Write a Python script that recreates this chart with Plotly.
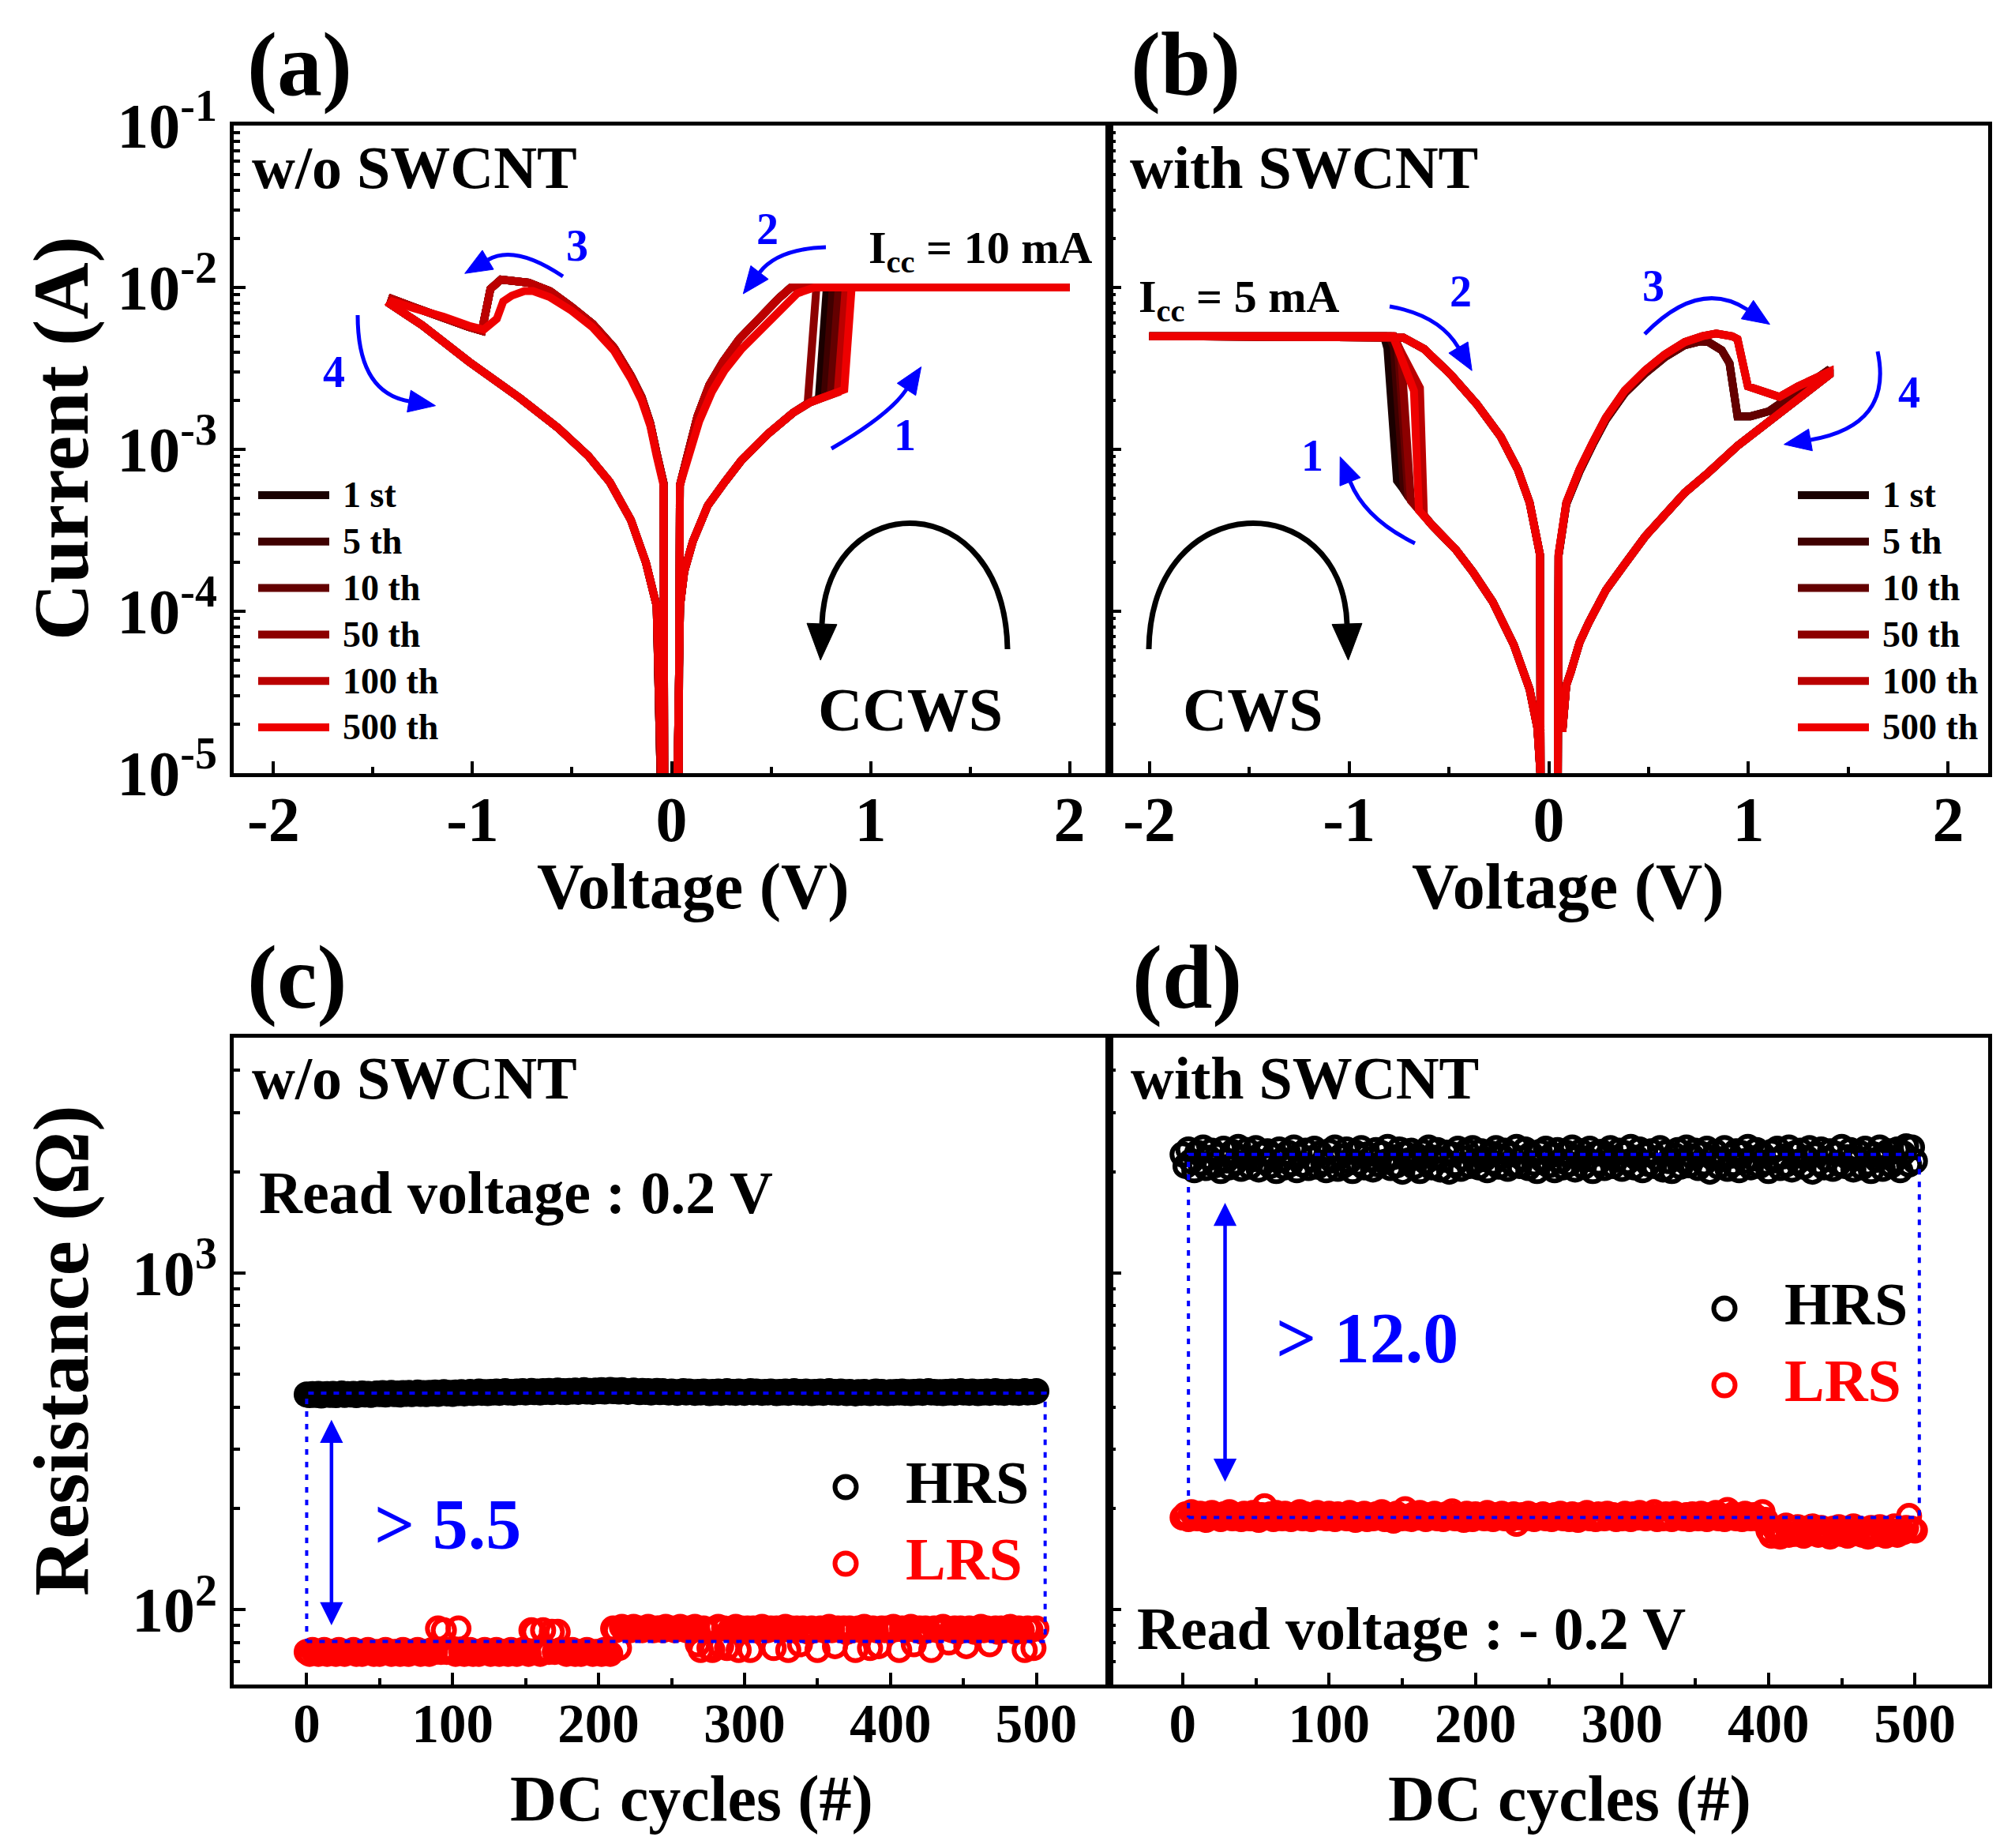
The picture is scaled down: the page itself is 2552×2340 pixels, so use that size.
import math
import plotly.graph_objects as go

W, H = 2552, 2340
FONT = "Liberation Serif"
BLUE = "#0000ff"

# ---------------- cycles shown in the I-V panels ----------------
cycle_names = ["1 st", "5 th", "10 th", "50 th", "100 th", "500 th"]
cycle_colors = ["#1a0000", "#3f0000", "#640000", "#8c0000", "#bb0000", "#ee0000"]

# ---------------- (a) w/o SWCNT, Icc = 10 mA ----------------
a_icc = 1e-2
a_vmax = 2.0
# sweep 1: 0 -> +V on the HRS
a_hrs_pos_v = [0.030, 0.030, 0.043, 0.064, 0.107, 0.182, 0.268, 0.353, 0.482, 0.610, 0.696, 0.760, 0.810, 0.868]
a_hrs_pos_i = [5e-6, 1e-5, 1.08e-4, 1.76e-4, 2.7e-4, 4.5e-4, 6.3e-4, 8.6e-4, 1.24e-3, 1.68e-3, 1.95e-3, 2.08e-3, 2.2e-3, 2.34e-3]
# set transition of every cycle
a_set_v = [0.740, 0.770, 0.800, 0.684, 0.835, 0.868]
a_set_i = [2.06e-3, 2.12e-3, 2.18e-3, 1.93e-3, 2.25e-3, 2.34e-3]
a_set_top_v = [0.780, 0.810, 0.840, 0.728, 0.875, 0.905]
# sweep 2: +V -> 0 on the LRS (two families of curves)
a_lrs_pos_dark_v = [0.600, 0.540, 0.450, 0.340, 0.260, 0.190, 0.130, 0.090, 0.060, 0.042, 0.036, 0.036]
a_lrs_pos_dark_i = [1e-2, 8.6e-3, 6.5e-3, 4.8e-3, 3.5e-3, 2.5e-3, 1.6e-3, 1.05e-3, 7.2e-4, 6.0e-4, 1e-5, 5e-6]
a_lrs_pos_red_v = [0.718, 0.632, 0.568, 0.461, 0.353, 0.268, 0.204, 0.139, 0.096, 0.064, 0.042, 0.036, 0.036]
a_lrs_pos_red_i = [1e-2, 9.2e-3, 7.7e-3, 5.66e-3, 4.18e-3, 3.09e-3, 2.28e-3, 1.49e-3, 9.7e-4, 6.8e-4, 6.0e-4, 1e-5, 5e-6]
# sweep 3: 0 -> -V on the LRS, reset
a_lrs_neg_dark_v = [-0.036, -0.036, -0.040, -0.075, -0.107, -0.150, -0.204, -0.289, -0.396, -0.503, -0.610,
                    -0.718, -0.857, -0.910, -0.953, -1.020, -1.150, -1.300, -1.405]
a_lrs_neg_dark_i = [5e-6, 1e-5, 6.2e-4, 9.5e-4, 1.45e-3, 2.1e-3, 2.85e-3, 4.25e-3, 5.95e-3, 7.6e-3, 9.5e-3,
                    1.07e-2, 1.12e-2, 9.8e-3, 5.4e-3, 5.7e-3, 6.6e-3, 7.6e-3, 8.5e-3]
a_lrs_neg_red_v = [-0.036, -0.036, -0.040, -0.075, -0.107, -0.150, -0.204, -0.289, -0.396, -0.503, -0.610,
                   -0.696, -0.739, -0.803, -0.846, -0.878, -0.943, -1.018, -1.146, -1.296, -1.403]
a_lrs_neg_red_i = [5e-6, 1e-5, 6.0e-4, 9.1e-4, 1.4e-3, 2.0e-3, 2.73e-3, 4.06e-3, 5.67e-3, 7.2e-3, 8.7e-3,
                   9.5e-3, 9.5e-3, 8.9e-3, 8.2e-3, 6.4e-3, 5.5e-3, 5.8e-3, 6.6e-3, 7.45e-3, 8.2e-3]
# sweep 4: -V -> 0 on the HRS
a_hrs_neg_v = [-1.414, -1.253, -1.018, -0.761, -0.568, -0.418, -0.311, -0.204, -0.129, -0.075, -0.050, -0.050]
a_hrs_neg_i = [7.9e-3, 5.85e-3, 3.48e-3, 2.07e-3, 1.35e-3, 9.1e-4, 6.3e-4, 3.66e-4, 2.0e-4, 1.08e-4, 1e-5, 5e-6]
a_family = [0, 0, 0, 0, 0, 1]

# ---------------- (b) with SWCNT, Icc = 5 mA ----------------
b_icc = 5e-3
b_vmin = -2.0
# sweep 1: 0 -> -V on the HRS
b_hrs_neg_v = [-0.040, -0.042, -0.057, -0.096, -0.175, -0.280, -0.380, -0.465, -0.584, -0.650, -0.690, -0.703, -0.725, -0.760]
b_hrs_neg_i = [5e-6, 1e-5, 1.9e-5, 3.3e-5, 6.2e-5, 1.14e-4, 1.75e-4, 2.4e-4, 3.4e-4, 4.2e-4, 4.8e-4, 5.1e-4, 5.6e-4, 6.4e-4]
b_set_v = [-0.760, -0.725, -0.703, -0.690, -0.625, -0.650]
b_set_i = [6.4e-4, 5.6e-4, 5.1e-4, 4.8e-4, 3.9e-4, 4.2e-4]
b_set_top_v = [-0.808, -0.776, -0.755, -0.740, -0.645, -0.675]
b_set_top_i = [4.2e-3, 4.3e-3, 4.2e-3, 4.0e-3, 2.4e-3, 2.3e-3]
b_knee_v = [-0.825, -0.800, -0.785, -0.775, -0.780, -0.780]
# sweep 2: -V -> 0 on the LRS
b_lrs_neg_v = [-0.795, -0.728, -0.624, -0.491, -0.360, -0.241, -0.155, -0.096, -0.044, -0.042, -0.040]
b_lrs_neg_i = [5e-3, 4.9e-3, 4.17e-3, 2.9e-3, 1.9e-3, 1.2e-3, 7.5e-4, 4.7e-4, 2.24e-4, 1e-5, 5e-6]
# sweep 3: 0 -> +V on the LRS, reset
b_lrs_pos_dark_v = [0.045, 0.047, 0.049, 0.088, 0.154, 0.220, 0.286, 0.380, 0.483, 0.580, 0.681, 0.760, 0.800,
                    0.866, 0.905, 0.945, 1.010, 1.103, 1.250, 1.406]
b_lrs_pos_dark_i = [5e-6, 1e-5, 2.2e-4, 4.6e-4, 7.3e-4, 1.07e-3, 1.52e-3, 2.22e-3, 2.95e-3, 3.7e-3, 4.4e-3, 4.65e-3, 4.6e-3,
                    4.1e-3, 3.4e-3, 1.6e-3, 1.6e-3, 1.72e-3, 2.3e-3, 3.12e-3]
b_lrs_pos_red_v = [0.045, 0.047, 0.049, 0.088, 0.154, 0.220, 0.286, 0.380, 0.483, 0.580, 0.681, 0.770, 0.839,
                   0.918, 0.945, 0.997, 1.063, 1.155, 1.248, 1.406]
b_lrs_pos_red_i = [5e-6, 1e-5, 2.24e-4, 4.7e-4, 7.5e-4, 1.1e-3, 1.57e-3, 2.3e-3, 3.08e-3, 3.85e-3, 4.6e-3, 5.0e-3, 5.2e-3,
                   5.0e-3, 4.8e-3, 2.45e-3, 2.29e-3, 2.11e-3, 2.45e-3, 3.02e-3]
# sweep 4: +V -> 0 on the HRS
b_hrs_pos_v = [1.406, 1.300, 1.208, 1.080, 0.945, 0.800, 0.681, 0.560, 0.483, 0.380, 0.286, 0.200, 0.154, 0.110, 0.088, 0.068]
b_hrs_pos_i = [2.9e-3, 2.3e-3, 1.85e-3, 1.4e-3, 1.05e-3, 7.2e-4, 5.4e-4, 3.7e-4, 2.9e-4, 1.95e-4, 1.35e-4, 8.5e-5,
               6.4e-5, 4.2e-5, 3.5e-5, 1.8e-5]
b_family = [0, 0, 0, 1, 1, 1]

# ---------------- (c), (d) DC endurance, every 2nd cycle ----------------
dc_cycles = list(range(0, 501, 2))
c_hrs = [436, 434, 437, 435, 438, 433, 436, 437, 435, 438, 434, 436, 439, 435, 437, 436, 438, 434, 437, 439, 436, 438, 435, 437, 439,
         437, 440, 436, 438, 441, 437, 439, 436, 440, 438, 441, 437, 439, 442, 438, 440, 437, 441, 439, 442, 438, 440, 443, 439, 441,
         438, 442, 440, 443, 439, 441, 444, 440, 442, 445, 441, 443, 440, 444, 442, 445, 441, 443, 446, 442, 444, 441, 445, 443, 446,
         442, 444, 447, 443, 445, 442, 446, 444, 447, 443, 445, 448, 444, 446, 443, 447, 445, 448, 444, 446, 449, 445, 447, 444, 448,
         446, 449, 445, 447, 450, 446, 448, 445, 449, 447, 444, 446, 448, 445, 443, 447, 444, 446, 442, 445, 447, 443, 446, 444, 442,
         445, 443, 441, 444, 446, 442, 445, 443, 441, 444, 442, 445, 443, 440, 444, 442, 445, 441, 443, 446, 442, 444, 441, 445, 443,
         441, 444, 446, 442, 445, 443, 441, 444, 442, 445, 443, 440, 444, 442, 445, 441, 443, 446, 442, 444, 441, 445, 443, 440, 444,
         442, 445, 441, 443, 446, 442, 444, 441, 445, 443, 440, 444, 442, 439, 443, 441, 444, 442, 440, 443, 445, 441, 444, 442, 440,
         443, 441, 444, 442, 445, 441, 443, 440, 444, 442, 445, 441, 443, 446, 442, 444, 441, 443, 440, 444, 442, 445, 441, 443, 446,
         442, 444, 441, 445, 443, 440, 444, 442, 445, 441, 443, 446, 442, 444, 441, 443, 445, 442, 444, 441, 443, 446, 442, 444, 443,
         446]
c_lrs = [75, 74, 76, 75, 74, 75, 76, 74, 75, 75, 74, 76, 75, 74, 75, 75, 76, 74, 75, 74, 75, 76, 75, 74, 75,
         74, 75, 76, 75, 74, 75, 75, 74, 76, 75, 74, 75, 75, 76, 74, 75, 75, 74, 76, 75, 88, 75, 87, 75, 76,
         75, 74, 88, 75, 74, 75, 76, 74, 75, 74, 75, 76, 75, 74, 75, 76, 74, 75, 75, 74, 76, 75, 74, 75, 76,
         75, 74, 87, 86, 75, 74, 87, 76, 75, 86, 75, 86, 76, 75, 74, 75, 76, 74, 75, 74, 75, 76, 75, 74, 75,
         75, 74, 76, 75, 74, 88, 87, 77, 89, 88, 88, 87, 89, 88, 88, 87, 88, 89, 88, 87, 88, 88, 87, 89, 88,
         88, 87, 88, 89, 88, 87, 88, 88, 89, 79, 76, 88, 87, 77, 76, 88, 89, 78, 88, 77, 87, 88, 89, 76, 88,
         87, 88, 76, 88, 87, 88, 89, 88, 87, 88, 77, 88, 87, 88, 89, 76, 88, 87, 88, 79, 88, 87, 86, 88, 87,
         76, 88, 87, 88, 89, 87, 78, 88, 87, 88, 86, 88, 87, 76, 88, 87, 89, 88, 77, 88, 87, 78, 88, 87, 88,
         87, 89, 88, 76, 88, 87, 88, 89, 79, 87, 88, 86, 88, 87, 76, 88, 87, 88, 89, 88, 80, 87, 88, 86, 88,
         87, 78, 88, 87, 86, 88, 89, 87, 88, 79, 87, 88, 86, 88, 87, 88, 89, 87, 86, 88, 87, 76, 88, 87, 77,
         88]
d_hrs = [2250, 2080, 2330, 2150, 2020, 2280, 2120, 2360, 2050, 2200, 2310, 2090, 2240, 2010, 2340, 2160, 2060, 2290, 2130, 2370, 2040, 2210, 2320, 2070, 2180,
         2350, 2030, 2260, 2140, 2300, 2080, 2230, 2010, 2330, 2170, 2060, 2280, 2110, 2360, 2020, 2240, 2100, 2310, 2050, 2190, 2340, 2070, 2270, 2130, 2020,
         2300, 2160, 2360, 2040, 2220, 2090, 2330, 2150, 2010, 2280, 2120, 2350, 2060, 2250, 2180, 2030, 2320, 2100, 2270, 2140, 2370, 2050, 2210, 2090, 2330,
         2000, 2260, 2160, 2310, 2070, 2230, 2010, 2290, 2140, 2360, 2060, 2200, 2320, 2030, 2170, 2280, 2000, 2250, 2110, 2340, 2040, 2190, 2300, 2080, 2350,
         2150, 2060, 2300, 2180, 2020, 2270, 2130, 2350, 2070, 2220, 2310, 2040, 2250, 2100, 2370, 2080, 2190, 2330, 2050, 2260, 2120, 2010, 2290, 2160, 2340,
         2090, 2240, 2020, 2320, 2150, 2060, 2280, 2110, 2360, 2030, 2210, 2300, 2070, 2180, 2340, 2010, 2260, 2130, 2290, 2050, 2230, 2350, 2080, 2170, 2310,
         2040, 2270, 2140, 2370, 2060, 2200, 2330, 2020, 2250, 2110, 2300, 2080, 2190, 2350, 2030, 2280, 2150, 2010, 2240, 2320, 2070, 2160, 2360, 2090, 2220,
         2310, 2050, 2260, 2120, 2340, 2000, 2200, 2290, 2070, 2180, 2350, 2040, 2230, 2110, 2300, 2020, 2270, 2150, 2370, 2060, 2190, 2320, 2080, 2250, 2130,
         2010, 2290, 2160, 2340, 2050, 2220, 2100, 2360, 2030, 2270, 2140, 2310, 2070, 2200, 2350, 2000, 2250, 2120, 2330, 2060, 2180, 2300, 2040, 2260, 2110,
         2370, 2080, 2210, 2320, 2030, 2190, 2280, 2060, 2340, 2120, 2010, 2250, 2170, 2360, 2040, 2230, 2300, 2090, 2160, 2330, 2020, 2270, 2380, 2100, 2360,
         2150]
d_lrs = [188, 192, 186, 195, 190, 187, 193, 189, 185, 191, 194, 188, 190, 186, 192, 189, 195, 187, 191, 188, 186, 193, 190, 187, 194,
         189, 185, 191, 203, 188, 192, 186, 194, 190, 187, 193, 189, 186, 191, 188, 195, 187, 192, 189, 186, 190, 194, 188, 191, 187,
         193, 189, 186, 192, 188, 190, 187, 194, 189, 185, 191, 188, 193, 186, 190, 187, 192, 189, 195, 186, 191, 188, 184, 193, 190,
         187, 199, 189, 186, 192, 188, 194, 190, 186, 191, 188, 193, 187, 190, 186, 192, 189, 196, 187, 191, 188, 185, 193, 189, 186,
         192, 188, 190, 187, 194, 189, 186, 191, 188, 193, 187, 190, 186, 192, 180, 188, 191, 187, 193, 189, 186, 190, 188, 192, 187,
         189, 186, 191, 188, 193, 187, 190, 186, 192, 189, 185, 191, 188, 194, 187, 190, 186, 192, 189, 187, 193, 188, 191, 186, 190,
         187, 193, 189, 186, 192, 188, 194, 190, 187, 191, 188, 195, 186, 190, 187, 192, 189, 186, 193, 188, 190, 187, 191, 186, 192,
         189, 187, 193, 188, 186, 191, 189, 194, 187, 190, 186, 198, 188, 192, 187, 190, 186, 193, 189, 187, 191, 188, 186, 195, 185,
         172, 166, 175, 169, 165, 171, 178, 167, 173, 168, 176, 170, 166, 174, 169, 177, 171, 167, 175, 168, 172, 165, 174, 170, 176,
         168, 173, 166, 171, 177, 169, 174, 167, 172, 165, 175, 170, 168, 176, 171, 166, 173, 169, 177, 167, 172, 170, 175, 190, 174,
         172]
# dotted memory window and ratio arrows
c_box_cycles = [0, 506]
c_box_levels = [80.5, 440]
d_box_cycles = [4, 503]
d_box_levels = [188, 2250]
c_arrow_cycle, c_arrow_span = 17, [90, 370]
d_arrow_cycle, d_arrow_span = 29, [240, 1630]

# ---------------- tick labels ----------------
v_ticks = [-2, -1, 0, 1, 2]
v_ticklabels = ["-2", "-1", "0", "1", "2"]
i_ticks = [1e-5, 1e-4, 1e-3, 1e-2, 1e-1]
i_ticklabels = ["10<sup>-5</sup>", "10<sup>-4</sup>", "10<sup>-3</sup>", "10<sup>-2</sup>", "10<sup>-1</sup>"]
n_ticks = [0, 100, 200, 300, 400, 500]
r_ticks = [100, 1000]
r_ticklabels = ["10<sup>2</sup>", "10<sup>3</sup>"]


def px(x):
    return x / W


def py(y):
    return 1 - y / H


fig = go.Figure()

# (a) I-V loops
for k, name in enumerate(cycle_names):
    n = sum(1 for x in a_hrs_pos_v if x < a_set_v[k])
    v = a_hrs_pos_v[:n] + [a_set_v[k], a_set_top_v[k], a_vmax]
    i = a_hrs_pos_i[:n] + [a_set_i[k], a_icc, a_icc]
    if a_family[k]:
        v += a_lrs_pos_red_v + a_lrs_neg_red_v
        i += a_lrs_pos_red_i + a_lrs_neg_red_i
    else:
        v += a_lrs_pos_dark_v + a_lrs_neg_dark_v
        i += a_lrs_pos_dark_i + a_lrs_neg_dark_i
    v += a_hrs_neg_v
    i += a_hrs_neg_i
    fig.add_trace(go.Scatter(x=v, y=i, mode="lines", name=name, showlegend=False,
                             line=dict(color=cycle_colors[k], width=10), xaxis="x", yaxis="y"))

# (b) I-V loops
for k, name in enumerate(cycle_names):
    n = sum(1 for x in b_hrs_neg_v if x > b_set_v[k])
    v = b_hrs_neg_v[:n] + [b_set_v[k], b_set_top_v[k], b_knee_v[k], b_vmin] + b_lrs_neg_v
    i = b_hrs_neg_i[:n] + [b_set_i[k], b_set_top_i[k], b_icc, b_icc] + b_lrs_neg_i
    if b_family[k]:
        v += b_lrs_pos_red_v
        i += b_lrs_pos_red_i
    else:
        v += b_lrs_pos_dark_v
        i += b_lrs_pos_dark_i
    v += b_hrs_pos_v
    i += b_hrs_pos_i
    fig.add_trace(go.Scatter(x=v, y=i, mode="lines", name=name, showlegend=False,
                             line=dict(color=cycle_colors[k], width=10), xaxis="x2", yaxis="y2"))

# (c), (d) endurance
for xa, ya, hrs, lrs in [("x3", "y3", c_hrs, c_lrs), ("x4", "y4", d_hrs, d_lrs)]:
    fig.add_trace(go.Scatter(x=dc_cycles, y=hrs, mode="markers", name="HRS", showlegend=False,
                             marker=dict(symbol="circle-open", size=27, color="black", line=dict(width=6)),
                             xaxis=xa, yaxis=ya))
    fig.add_trace(go.Scatter(x=dc_cycles, y=lrs, mode="markers", name="LRS", showlegend=False,
                             marker=dict(symbol="circle-open", size=27, color="#ff0000", line=dict(width=6)),
                             xaxis=xa, yaxis=ya))

for xa, ya, bx, by in [("x3", "y3", c_box_cycles, c_box_levels), ("x4", "y4", d_box_cycles, d_box_levels)]:
    fig.add_trace(go.Scatter(x=[bx[0], bx[1], bx[1], bx[0], bx[0]], y=[by[0], by[0], by[1], by[1], by[0]],
                             mode="lines", showlegend=False, hoverinfo="skip",
                             line=dict(color=BLUE, width=4, dash="7px,9px"), xaxis=xa, yaxis=ya))

# ---------------- axes ----------------
def axis(**kw):
    d = dict(showline=True, linewidth=5, linecolor="black", mirror=True, ticks="inside",
             ticklen=15, tickwidth=4, tickcolor="black", showgrid=False, zeroline=False, automargin=False,
             tickfont=dict(family=FONT, size=80, color="black", weight="bold"))
    d.update(kw)
    return d


i_minor = [m * 10.0 ** e for e in range(-5, -1) for m in range(2, 10)]
r_minor = [60, 70, 80, 90] + [m * 100 for m in range(2, 10)] + [2000, 3000, 4000, 5000]
minor_lin = dict(ticks="inside", ticklen=8, tickwidth=4, tickcolor="black")
n_font = dict(family=FONT, size=69, color="black", weight="bold")

xa_top = [px(296), px(1405)]
xb_top = [px(1405), px(2518)]
y_top = [py(979), py(159)]
y_bot = [py(2133), py(1314)]

fig.update_layout(
    width=W, height=H, margin=dict(l=0, r=0, t=0, b=0), autosize=False,
    paper_bgcolor="white", plot_bgcolor="white", showlegend=False,
    font=dict(family=FONT, color="black"),
    xaxis=axis(domain=xa_top, anchor="y", range=[-2.2, 2.2], tickvals=v_ticks, ticktext=v_ticklabels,
               ticklabelstandoff=-15, minor=dict(dtick=0.5, **minor_lin)),
    yaxis=axis(domain=y_top, anchor="x", type="log", range=[-5, -1], tickvals=i_ticks, ticktext=i_ticklabels,
               minor=dict(tickvals=i_minor, **minor_lin)),
    xaxis2=axis(domain=xb_top, anchor="y2", range=[-2.2, 2.2], tickvals=v_ticks, ticktext=v_ticklabels,
                ticklabelstandoff=-15, minor=dict(dtick=0.5, **minor_lin)),
    yaxis2=axis(domain=y_top, anchor="x2", type="log", range=[-5, -1], tickvals=i_ticks, showticklabels=False,
                minor=dict(tickvals=i_minor, **minor_lin)),
    xaxis3=axis(domain=xa_top, anchor="y3", range=[-50, 550], tickvals=n_ticks, tickfont=n_font,
                ticklabelstandoff=-15, minor=dict(dtick=50, **minor_lin)),
    yaxis3=axis(domain=y_bot, anchor="x3", type="log", range=[math.log10(60), math.log10(5000)],
                tickvals=r_ticks, ticktext=r_ticklabels, minor=dict(tickvals=r_minor, **minor_lin)),
    xaxis4=axis(domain=xb_top, anchor="y4", range=[-50, 550], tickvals=n_ticks, tickfont=n_font,
                ticklabelstandoff=-15, minor=dict(dtick=50, **minor_lin)),
    yaxis4=axis(domain=y_bot, anchor="x4", type="log", range=[math.log10(60), math.log10(5000)],
                tickvals=r_ticks, showticklabels=False, minor=dict(tickvals=r_minor, **minor_lin)),
)

# ---------------- text ----------------
def text(x, y, s, size, color="black", xanchor="center", angle=0):
    fig.add_annotation(x=px(x), y=py(y), xref="paper", yref="paper", text=s, showarrow=False,
                       xanchor=xanchor, yanchor="middle", textangle=angle,
                       font=dict(family=FONT, size=size, color=color, weight="bold"))


for lab, x, y in [("(a)", 379, 82), ("(b)", 1501, 82), ("(c)", 376, 1237), ("(d)", 1503, 1237)]:
    text(x, y, lab, 114)

text(77, 555, "Current (A)", 100, angle=-90)
text(77, 1710, "Resistance (Ω)", 100, angle=-90)
text(878, 1122, "Voltage (V)", 82)
text(1986, 1122, "Voltage (V)", 82)
text(876, 2277, "DC cycles (#)", 82)
text(1988, 2277, "DC cycles (#)", 82)

text(317, 212, "w/o SWCNT", 76, xanchor="left")
text(1429, 212, "with SWCNT", 76, xanchor="left")
text(317, 1365, "w/o SWCNT", 76, xanchor="left")
text(1430, 1365, "with SWCNT", 76, xanchor="left")
text(1098, 318, "I<sub>cc</sub> = 10 mA", 58, xanchor="left")
text(1440, 380, "I<sub>cc</sub> = 5 mA", 58, xanchor="left")
text(1153, 899, "CCWS", 78)
text(1587, 899, "CWS", 78)
text(326, 1510, "Read voltage : 0.2 V", 76, xanchor="left")
text(1438, 2062, "Read voltage : - 0.2 V", 76, xanchor="left")
text(472, 1930, "> 5.5", 90, color=BLUE, xanchor="left")
text(1614, 1694, "> 12.0", 90, color=BLUE, xanchor="left")

for s, x, y in [("1", 1146, 551), ("2", 972, 290), ("3", 731, 311), ("4", 423, 471),
                ("1", 1662, 577), ("2", 1850, 369), ("3", 2094, 362), ("4", 2418, 497)]:
    text(x, y, s, 56, color=BLUE)

# ---------------- arrows ----------------
shapes = []


def head(p, c, hl, hw, color):
    dx, dy = p[0] - c[0], p[1] - c[1]
    n = math.hypot(dx, dy)
    ux, uy = dx / n, dy / n
    tip = (p[0] + ux * hl, p[1] + uy * hl)
    b1 = (p[0] - uy * hw / 2, p[1] + ux * hw / 2)
    b2 = (p[0] + uy * hw / 2, p[1] - ux * hw / 2)
    path = "M{},{} L{},{} L{},{} Z".format(px(tip[0]), py(tip[1]), px(b1[0]), py(b1[1]), px(b2[0]), py(b2[1]))
    shapes.append(dict(type="path", xref="paper", yref="paper", path=path,
                       fillcolor=color, line=dict(color=color, width=1)))


def curved_arrow(p0, c, p1, color=BLUE, width=5, hl=34, hw=28):
    path = "M{},{} Q{},{} {},{}".format(px(p0[0]), py(p0[1]), px(c[0]), py(c[1]), px(p1[0]), py(p1[1]))
    shapes.append(dict(type="path", xref="paper", yref="paper", path=path, line=dict(color=color, width=width)))
    head(p1, c, hl, hw, color)


def arch(p0, c1, c2, p1):
    path = "M{},{} C{},{} {},{} {},{}".format(px(p0[0]), py(p0[1]), px(c1[0]), py(c1[1]),
                                             px(c2[0]), py(c2[1]), px(p1[0]), py(p1[1]))
    shapes.append(dict(type="path", xref="paper", yref="paper", path=path, line=dict(color="black", width=7)))
    head(p1, c2, 46, 38, "black")


curved_arrow((1053, 568), (1127, 525), (1148, 493))
curved_arrow((1046, 313), (985, 315), (962, 345))
curved_arrow((713, 350), (652, 309), (618, 329))
curved_arrow((453, 399), (453, 497), (518, 508))
curved_arrow((1760, 388), (1823, 399), (1847, 440))
curved_arrow((1792, 688), (1729, 657), (1710, 610))
curved_arrow((2083, 423), (2152, 352), (2213, 392))
curved_arrow((2378, 445), (2398, 539), (2293, 557))
arch((1276, 822), (1272, 615), (1048, 615), (1041, 790))
arch((1455, 822), (1458, 615), (1700, 615), (1706, 790))

# legends of (a) and (b)
for k, name in enumerate(cycle_names):
    for x0, x1, xt in [(327, 417, 432), (2277, 2367, 2382)]:
        y = 627 + 58.8 * k
        shapes.append(dict(type="line", xref="paper", yref="paper", x0=px(x0), x1=px(x1), y0=py(y), y1=py(y),
                           line=dict(color=cycle_colors[k], width=10)))
        text(xt, y, name, 46, xanchor="left")

# legends of (c) and (d)
for cx, cy, s, col in [(1071, 1883, "HRS", "black"), (1071, 1980, "LRS", "#ff0000"),
                       (2184, 1657, "HRS", "black"), (2184, 1754, "LRS", "#ff0000")]:
    r = 13.5
    shapes.append(dict(type="circle", xref="paper", yref="paper", x0=px(cx - r), x1=px(cx + r),
                       y0=py(cy + r), y1=py(cy - r), line=dict(color=col, width=6)))
    text(cx + 74, cy - 6, s, 76, color=col, xanchor="left")

fig.update_layout(shapes=shapes)

# memory-window double arrows
for xa, ya, xc, span in [("x3", "y3", c_arrow_cycle, c_arrow_span), ("x4", "y4", d_arrow_cycle, d_arrow_span)]:
    fig.add_annotation(x=xc, y=math.log10(span[0]), ax=xc, ay=math.log10(span[1]), xref=xa, yref=ya,
                       axref=xa, ayref=ya, text="", showarrow=True, arrowside="end+start",
                       arrowhead=2, arrowsize=1.3, arrowwidth=4.5, arrowcolor=BLUE)

fig.write_html("out.html", config={"displayModeBar": False},
               post_script="document.body.style.margin = '0px';")
